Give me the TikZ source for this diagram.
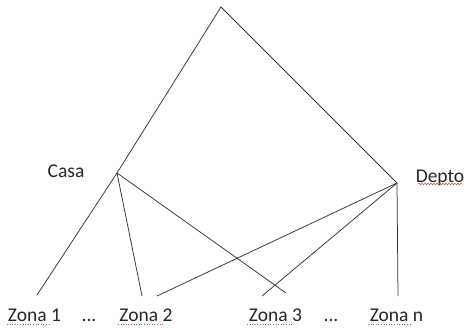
\documentclass[tikz,border=0pt]{standalone}
\usepackage{fontspec}
\setmainfont{Carlito}
\usetikzlibrary{decorations.pathmorphing}
\definecolor{spellred}{HTML}{C0504D}

\begin{document}
\begin{tikzpicture}[x=1pt, y=-1pt,
    word/.style={font=\fontsize{19.5}{22}\selectfont, inner sep=0pt, anchor=base, text=black!85},
    branch/.style={draw=black!80, line width=0.75pt},
    spell/.style={draw=spellred, line width=0.6pt, dotted},
    wavy/.style={draw=spellred, line width=0.5pt, decorate, decoration={snake, amplitude=0.8pt, segment length=3pt}}
]
\useasboundingbox (0,0) rectangle (469,327);
% junctions
\coordinate (top) at (221,7);
\coordinate (casaj) at (117,173);
\coordinate (deptoj) at (397,183);
% leaf ends
\coordinate (z1) at (37,295);
\coordinate (z2a) at (142,296);
\coordinate (z3a) at (286,293);
\coordinate (z2b) at (157,296);
\coordinate (z3b) at (262,296);
\coordinate (zn) at (398,296);
% labels
\node[word] (casa) at (66,177) {Casa};
\node[word] (depto) at (440,182) {Depto};
\node[word] (zona1) at (34.5,321.5) {Zona 1};
\node[word] (dots1) at (89,321.5) {...};
\node[word] (zona2) at (146,321.5) {Zona 2};
\node[word] (zona3) at (275.5,321.5) {Zona 3};
\node[word] (dots2) at (331,321.5) {...};
\node[word] (zonan) at (396.5,321.5) {Zona n};
% branches
\draw[branch] (casaj) -- (top) -- (deptoj);
\draw[branch] (casaj) -- (z1);
\draw[branch] (casaj) -- (z2a);
\draw[branch] (casaj) -- (z3a);
\draw[branch] (deptoj) -- (z2b);
\draw[branch] (deptoj) -- (z3b);
\draw[branch] (deptoj) -- (zn);
% spell check marks
\draw[spell] (7,324.5) -- (50,324.5);
\draw[spell] (118,324.5) -- (163,324.5);
\draw[spell] (247,324.5) -- (292,324.5);
\draw[spell] (368,324.5) -- (412,324.5);
\draw[wavy] (418,184) -- (463,184);
\end{tikzpicture}
\end{document}
